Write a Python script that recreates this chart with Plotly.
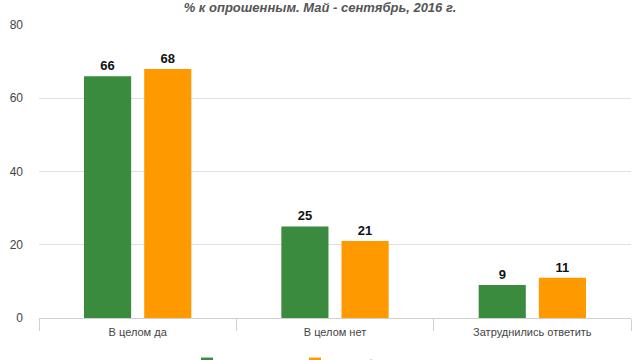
import plotly.graph_objects as go

categories = ["В целом да", "В целом нет", "Затруднились ответить"]
series_names = ["Май 2016", "Сентябрь 2016"]
may_values = [66, 25, 9]
sep_values = [68, 21, 11]
colors = ["#3a8b3d", "#ff9900"]
title_text = "% к опрошенным. Май - сентябрь, 2016 г."

fig = go.Figure()
for name, vals, col in zip(series_names, [may_values, sep_values], colors):
    fig.add_trace(go.Bar(
        x=categories, y=vals, name=name, marker_color=col,
        marker_line_width=0,
        text=[str(v) for v in vals], textposition="outside",
        textfont=dict(family="Liberation Sans, Arial", size=13, color="#111111"),
        texttemplate="<b>%{text}</b>", cliponaxis=False,
    ))

fig.update_layout(
    width=640, height=360,
    margin=dict(l=39, r=9, t=25, b=42, autoexpand=False),
    paper_bgcolor="white", plot_bgcolor="white",
    barmode="group", bargap=0.39, bargroupgap=0.217,
    font=dict(family="Liberation Sans, Arial", size=12, color="#555555"),
    title=dict(text="<b><i>" + title_text + "</i></b>", x=0.5, xanchor="center",
               y=0.98, yanchor="middle",
               font=dict(family="Liberation Sans, Arial", size=13, color="#555555")),
    legend=dict(orientation="h", x=0.25, xanchor="left", y=-0.106, yanchor="top",
                font=dict(family="Liberation Sans, Arial", size=11, color="#555555"),
                itemwidth=30, entrywidth=63, entrywidthmode="pixels"),
    showlegend=True,
)
fig.update_xaxes(showline=True, linecolor="#d0d0d0", linewidth=1, automargin=False,
                 ticks="outside", tickson="boundaries", ticklen=12, tickcolor="#d0d0d0",
                 ticklabelstandoff=4,
                 tickfont=dict(family="Liberation Sans, Arial", size=11, color="#444444"))
fig.update_yaxes(range=[0, 80], dtick=20, showgrid=True, gridcolor="#e0e0e0", automargin=False,
                 zeroline=False, showline=False, tickfont=dict(size=12, color="#444444"),
                 ticks="", ticklabelstandoff=15)
fig.write_html("out.html", config={"displayModeBar": False},
               post_script="document.body.style.margin='0';")
